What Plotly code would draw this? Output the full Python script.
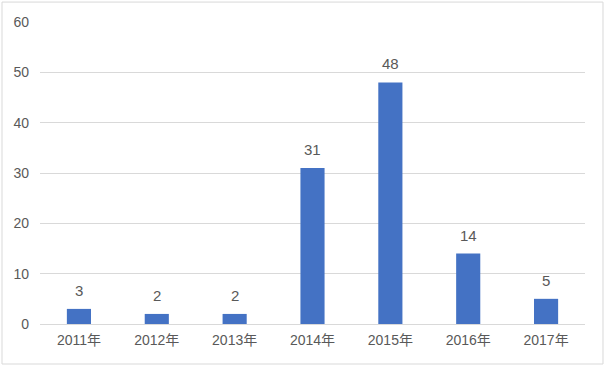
import plotly.graph_objects as go

categories = ["2011年", "2012年", "2013年", "2014年", "2015年", "2016年", "2017年"]
values = [3, 2, 2, 31, 48, 14, 5]
y_ticks = [0, 10, 20, 30, 40, 50, 60]

font_family = "Liberation Sans, Arial, Noto Sans CJK SC, sans-serif"
text_color = "#595959"

fig = go.Figure()
fig.add_trace(go.Bar(
    x=categories, y=values,
    marker=dict(color="#4472C4", line=dict(width=0)),
    hoverinfo="skip",
))

for c, v in zip(categories, values):
    fig.add_annotation(x=c, y=v, text=str(v), showarrow=False,
                       yanchor="bottom", yshift=8,
                       font=dict(size=15, color=text_color, family=font_family))

fig.add_shape(type="rect", xref="paper", yref="paper",
              x0=-0.0697, x1=1.033, y0=-0.1325, y1=1.066,
              line=dict(color="#D9D9D9", width=1), layer="below")

fig.update_layout(
    width=606, height=370,
    margin=dict(l=40, r=21, t=22, b=46),
    paper_bgcolor="white", plot_bgcolor="white",
    bargap=0.69,
    showlegend=False,
    font=dict(family=font_family, color=text_color, size=14),
    xaxis=dict(showgrid=False, showline=False, ticks="", tickfont=dict(size=14, color=text_color),
               ticklabelstandoff=6),
    yaxis=dict(range=[0, 60], tickvals=y_ticks, showgrid=True, gridcolor="#D9D9D9", gridwidth=1,
               zeroline=True, zerolinecolor="#D9D9D9", zerolinewidth=1,
               showline=False, ticks="", tickfont=dict(size=14, color=text_color),
               ticklabelstandoff=10),
)

fig.write_html("out.html")
